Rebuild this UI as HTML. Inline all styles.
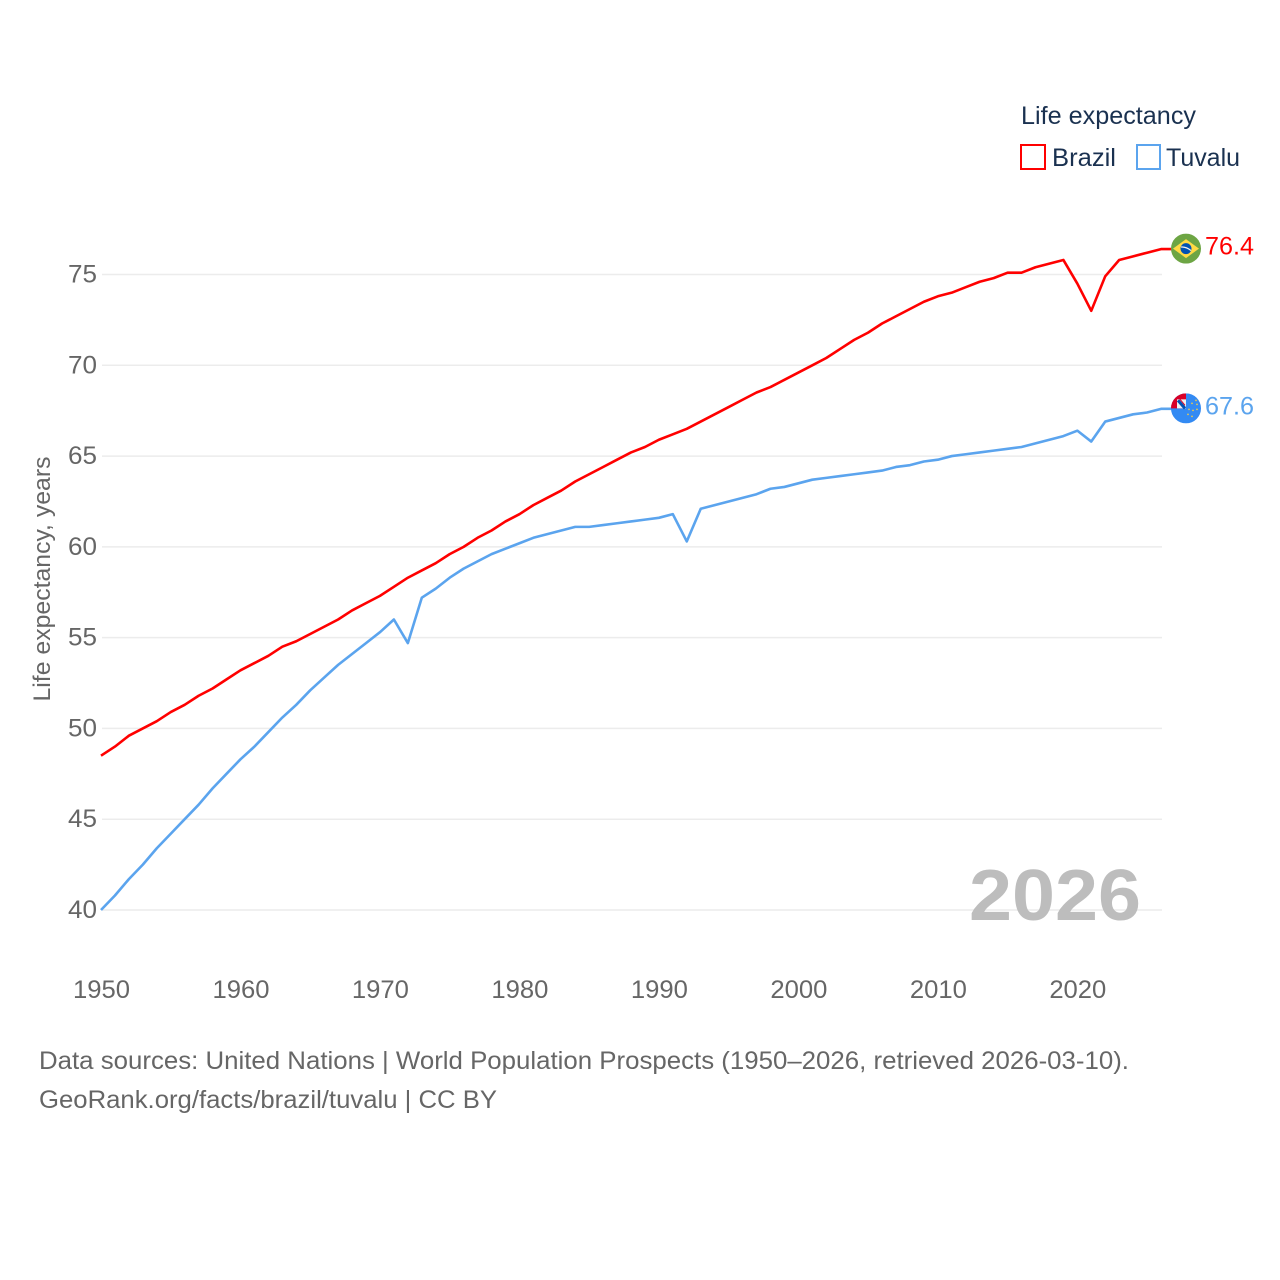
<!DOCTYPE html>
<html lang="en">
<head>
<meta charset="utf-8">
<title>Life expectancy: Brazil and Tuvalu</title>
<style>
html,body{margin:0;padding:0;background:#fff;width:1280px;height:1280px;overflow:hidden}
svg{display:block}
text{font-family:"Liberation Sans",sans-serif}
</style>
</head>
<body>
<svg id="chart" xmlns="http://www.w3.org/2000/svg" width="1280" height="1280" viewBox="0 0 1280 1280">
<defs>
<clipPath id="clip-br"><circle cx="0" cy="0" r="15"/></clipPath>
<clipPath id="clip-tv"><circle cx="0" cy="0" r="15"/></clipPath>
</defs>
<g id="grid"></g>
<g id="yticks"></g>
<g id="xticks"></g>
<text transform="translate(50,579) rotate(-90)" text-anchor="middle" font-size="24" fill="#666" textLength="245" lengthAdjust="spacingAndGlyphs">Life expectancy, years</text>
<text x="1141" y="920" text-anchor="end" font-size="72" font-weight="700" fill="#bdbdbd" textLength="172" lengthAdjust="spacingAndGlyphs">2026</text>
<g id="series"></g>
<g id="markers"></g>
<g>
<text x="1021" y="124" font-size="25" fill="#1a3150" textLength="175" lengthAdjust="spacingAndGlyphs">Life expectancy</text>
<rect x="1021" y="145" width="24" height="24" fill="none" stroke="#ff0000" stroke-width="2"/>
<text x="1052" y="166" font-size="25" fill="#1a3150" textLength="64" lengthAdjust="spacingAndGlyphs">Brazil</text>
<rect x="1137" y="145" width="23" height="24" fill="none" stroke="#5ba4ee" stroke-width="2"/>
<text x="1166" y="166" font-size="25" fill="#1a3150" textLength="74" lengthAdjust="spacingAndGlyphs">Tuvalu</text>
</g>
<text x="39" y="1069" font-size="25" fill="#666" textLength="1090" lengthAdjust="spacingAndGlyphs">Data sources: United Nations | World Population Prospects (1950–2026, retrieved 2026-03-10).</text>
<text x="39" y="1108" font-size="25" fill="#666" textLength="458" lengthAdjust="spacingAndGlyphs">GeoRank.org/facts/brazil/tuvalu | CC BY</text>
</svg>
<script>
var years = [1950,1951,1952,1953,1954,1955,1956,1957,1958,1959,1960,1961,1962,1963,1964,1965,1966,1967,1968,1969,1970,1971,1972,1973,1974,1975,1976,1977,1978,1979,1980,1981,1982,1983,1984,1985,1986,1987,1988,1989,1990,1991,1992,1993,1994,1995,1996,1997,1998,1999,2000,2001,2002,2003,2004,2005,2006,2007,2008,2009,2010,2011,2012,2013,2014,2015,2016,2017,2018,2019,2020,2021,2022,2023,2024,2025,2026];
var brazil = [48.5,49.0,49.6,50.0,50.4,50.9,51.3,51.8,52.2,52.7,53.2,53.6,54.0,54.5,54.8,55.2,55.6,56.0,56.5,56.9,57.3,57.8,58.3,58.7,59.1,59.6,60.0,60.5,60.9,61.4,61.8,62.3,62.7,63.1,63.6,64.0,64.4,64.8,65.2,65.5,65.9,66.2,66.5,66.9,67.3,67.7,68.1,68.5,68.8,69.2,69.6,70.0,70.4,70.9,71.4,71.8,72.3,72.7,73.1,73.5,73.8,74.0,74.3,74.6,74.8,75.1,75.1,75.4,75.6,75.8,74.5,73.0,74.9,75.8,76.0,76.2,76.4];
var tuvalu = [40.0,40.8,41.7,42.5,43.4,44.2,45.0,45.8,46.7,47.5,48.3,49.0,49.8,50.6,51.3,52.1,52.8,53.5,54.1,54.7,55.3,56.0,54.7,57.2,57.7,58.3,58.8,59.2,59.6,59.9,60.2,60.5,60.7,60.9,61.1,61.1,61.2,61.3,61.4,61.5,61.6,61.8,60.3,62.1,62.3,62.5,62.7,62.9,63.2,63.3,63.5,63.7,63.8,63.9,64.0,64.1,64.2,64.4,64.5,64.7,64.8,65.0,65.1,65.2,65.3,65.4,65.5,65.7,65.9,66.1,66.4,65.8,66.9,67.1,67.3,67.4,67.6];
var yTickValues = [40,45,50,55,60,65,70,75];
var xTickValues = [1950,1960,1970,1980,1990,2000,2010,2020];

var NS = 'http://www.w3.org/2000/svg';
function xScale(year){ return 101 + (year - 1950) * (1161 - 101) / 76; }
function yScale(v){ return 910 - (v - 40) * (910 - 274.5) / 35; }
function make(tag, parent, attrs){
  var el = document.createElementNS(NS, tag);
  for (var k in attrs) el.setAttribute(k, attrs[k]);
  parent.appendChild(el);
  return el;
}

var grid = document.getElementById('grid');
var yticks = document.getElementById('yticks');
var xticks = document.getElementById('xticks');
var series = document.getElementById('series');
var markers = document.getElementById('markers');

yTickValues.forEach(function(v){
  var line = make('line', grid, {x1:102, x2:1162, y1:yScale(v), y2:yScale(v), stroke:'#ececec', 'stroke-width':1.5});
  
  
  var t = make('text', yticks, {x:97, y:yScale(v) + 8, 'text-anchor':'end', 'font-size':25, fill:'#666', textLength:29, lengthAdjust:'spacingAndGlyphs'});
  
  
  t.textContent = v;
});

xTickValues.forEach(function(y){
  var t = make('text', xticks, {x:xScale(y) + 0.5, y:998, 'text-anchor':'middle', 'font-size':25, fill:'#666', textLength:57, lengthAdjust:'spacingAndGlyphs'});
  
  
  t.textContent = y;
});

function drawLine(values, color, name){
  var pts = values.map(function(v, i){ return xScale(years[i]).toFixed(2) + ',' + yScale(v).toFixed(2); });
  var last = values[values.length - 1];
  pts.push((xScale(years[years.length - 1]) + 11).toFixed(2) + ',' + yScale(last).toFixed(2));
  var p = make('polyline', series, {points:pts.join(' '), fill:'none', stroke:color, 'stroke-width':2.6, 'stroke-linejoin':'round'});
  
  
}
drawLine(brazil, '#ff0000', 'line-brazil');
drawLine(tuvalu, '#5ba4ee', 'line-tuvalu');

var flagX = xScale(years[years.length - 1]) + 25;

var brY = yScale(brazil[brazil.length - 1]) - 0.5;
var brFlag = make('g', markers, {transform:'translate(' + flagX + ',' + brY + ')', 'clip-path':'url(#clip-br)'});


make('rect', brFlag, {x:-15, y:-15, width:30, height:30, fill:'#6da544'});
make('polygon', brFlag, {points:'-13,0 0,-9.5 13,0 0,9.5', fill:'#ffda44'});
make('circle', brFlag, {cx:0, cy:0, r:5.5, fill:'#0052b4'});
make('path', brFlag, {d:'M-5,-1.5 Q0,-2 5,2', fill:'none', stroke:'#f0f0f0', 'stroke-width':1.2});

var brVal = make('text', markers, {x:1205, y:brY + 6, 'font-size':25, fill:'#ff0000', textLength:49, lengthAdjust:'spacingAndGlyphs'});


brVal.textContent = brazil[brazil.length - 1].toFixed(1);

var tvY = yScale(tuvalu[tuvalu.length - 1]) - 0.5;
var tvFlag = make('g', markers, {transform:'translate(' + flagX + ',' + tvY + ')', 'clip-path':'url(#clip-tv)'});


make('rect', tvFlag, {x:-15, y:-15, width:30, height:30, fill:'#338af3'});
make('rect', tvFlag, {x:-15, y:-15, width:15, height:15, fill:'#d80027'});
make('rect', tvFlag, {x:-9, y:-9, width:9, height:9, fill:'#f0f0f0'});
make('path', tvFlag, {d:'M-8,-8 L-1,0', stroke:'#0052b4', 'stroke-width':3, fill:'none'});
make('path', tvFlag, {d:'M-6,-9 L-1,-3', stroke:'#d80027', 'stroke-width':1, fill:'none'});
var tvStars = [[10,-8],[11,-4],[6,-5],[11,1],[3,1],[7,2],[2,6],[6,8]];
tvStars.forEach(function(s){
  make('circle', tvFlag, {cx:s[0], cy:s[1], r:0.9, fill:'#e8c850'});
});

var tvVal = make('text', markers, {x:1205, y:tvY + 6, 'font-size':25, fill:'#5ba4ee', textLength:49, lengthAdjust:'spacingAndGlyphs'});


tvVal.textContent = tuvalu[tuvalu.length - 1].toFixed(1);
</script>
</body>
</html>
